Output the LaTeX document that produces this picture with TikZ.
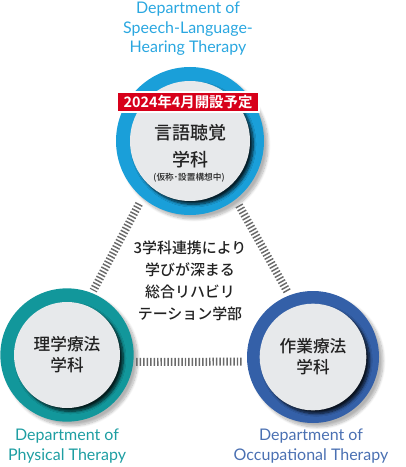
\documentclass[tikz,border=0pt]{standalone}
\usepackage{fontspec}
\setmainfont{Lato}
\newfontfamily\jp{Noto Sans CJK JP}[UprightFont=* Medium,BoldFont=* Bold]
\usetikzlibrary{positioning,shadows.blur}

\definecolor{slhblue}{HTML}{1A9FD9}
\definecolor{ptteal}{HTML}{12979B}
\definecolor{otblue}{HTML}{3460A8}
\definecolor{slhtext}{HTML}{2AA7E0}
\definecolor{pttext}{HTML}{1E9EA2}
\definecolor{ottext}{HTML}{4A70B2}
\definecolor{coregray}{HTML}{E7E9EB}
\definecolor{linkgray}{HTML}{6A6A6A}
\definecolor{badgered}{HTML}{D7001A}
\definecolor{inkdark}{HTML}{222222}

\begin{document}
\begin{tikzpicture}[x=0.75pt,y=-0.75pt,
 ring/.style={circle,inner sep=0pt,blur shadow={shadow xshift=3pt,shadow yshift=-3pt,shadow blur steps=10,shadow opacity=30}},
 core/.style={circle,fill=coregray,inner sep=0pt,align=center,text=inkdark,
   blur shadow={shadow xshift=2.5pt,shadow yshift=-2.5pt,shadow blur steps=8,shadow opacity=80}},
 link/.style={draw=linkgray,line width=6pt,dash pattern=on 1.1pt off 1.5pt},
 dept/.style={align=center,font=\fontsize{12}{14.6}\selectfont},
 badge/.style={fill=badgered,draw=white,line width=1.5pt,text=white,inner sep=0pt,
   minimum width=106.5pt,minimum height=14.5pt,font=\jp\bfseries\fontsize{10.8}{10.8}\selectfont}]
\useasboundingbox (0,0) rectangle (406,467);
% three departments
\node[ring,fill=slhblue,minimum size=111pt] (slh) at (190,141) {};
\node[core,minimum size=90pt] (slhc) at (190,141) {};
\node[ring,fill=ptteal,minimum size=100pt] (pt) at (67,355) {};
\node[core,minimum size=79.5pt,font=\jp\fontsize{12.5}{15.8}\selectfont] (ptc) at (67,355) {理学療法\\学科};
\node[ring,fill=otblue,minimum size=99pt] (ot) at (313,357) {};
\node[core,minimum size=80pt,font=\jp\fontsize{12.5}{15.8}\selectfont] (otc) at (313,357) {作業療法\\学科};
% text of the new department
\node[align=center,text=inkdark,font=\jp\fontsize{13.5}{20}\selectfont] (slhname) at (190,146) {言語聴覚\\学科};
\node[text=inkdark,font=\jp\fontsize{6.5}{7}\selectfont] (slhnote) at (189,178) {(仮称･設置構想中)};
\node[badge] (open) at (188,102) {2024年4月開設予定};
% links
\draw[link,shorten <=5pt,shorten >=2pt] (slh.230) -- (pt.68);
\draw[link,shorten <=5pt,shorten >=2pt] (slh.308) -- (ot.111);
\draw[link,shorten <=2pt,shorten >=3pt] (pt.-6) -- (ot.184);
\node[align=center,text=inkdark,font=\jp\fontsize{11.2}{16.5}\selectfont] (joint) at (190,281)
 {3学科連携により\\学びが深まる\\総合リハビリ\\テーション学部};
% english names
\node[dept,text=slhtext] (slhen) at (188,29) {Department of\\Speech-Language-\\Hearing Therapy};
\node[dept,text=pttext] (pten) at (67,446) {Department of\\Physical Therapy};
\node[dept,text=ottext] (oten) at (311,446) {Department of\\Occupational Therapy};
\end{tikzpicture}
\end{document}
